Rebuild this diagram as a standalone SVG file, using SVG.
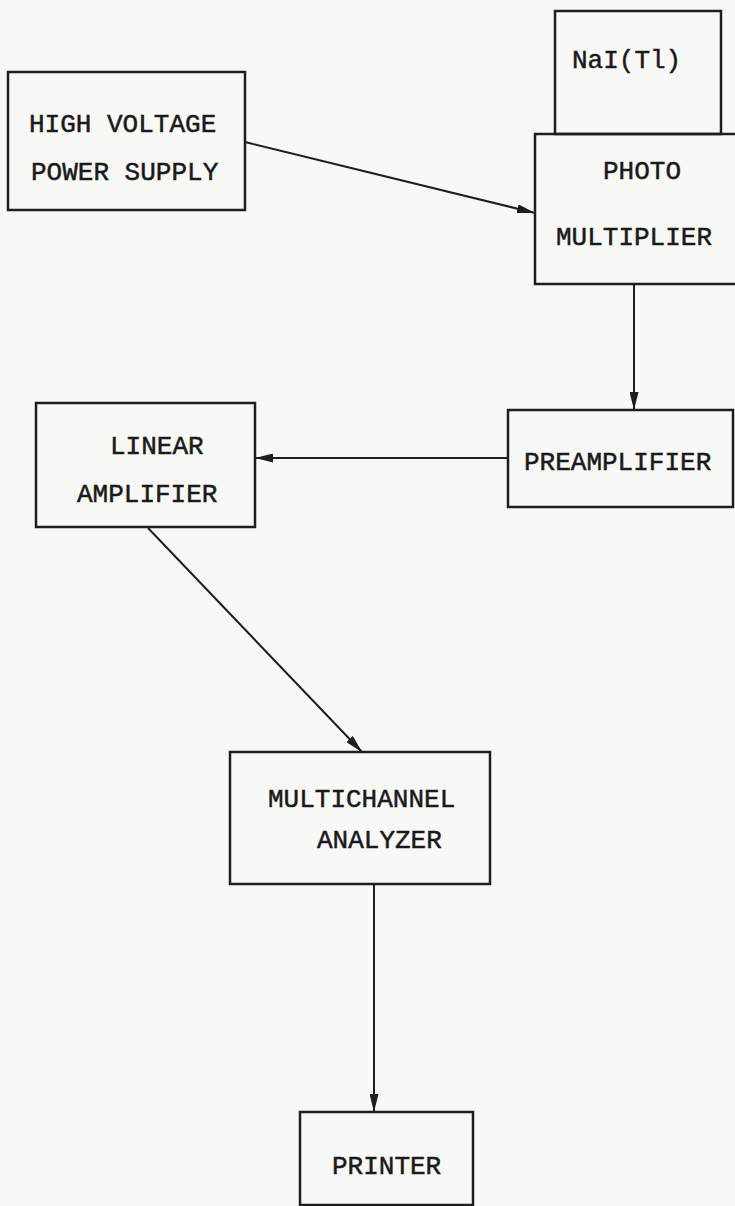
<svg xmlns="http://www.w3.org/2000/svg" width="735" height="1206" viewBox="0 0 735 1206">
<style>
.box{fill:none;stroke:#1e1e1e;stroke-width:2.5}
.lbl{font-family:"Liberation Mono","DejaVu Sans Mono",monospace;font-size:26px;fill:#1a1a1a;stroke:#1a1a1a;stroke-width:0.5}
.conn{stroke:#1e1e1e;stroke-width:2;fill:none;marker-end:url(#ah)}
</style>
<defs>
<marker id="ah" viewBox="0 0 18 9" refX="18" refY="4.5" markerWidth="18" markerHeight="9" markerUnits="userSpaceOnUse" orient="auto">
<path d="M0,0 L18,4.5 L0,9 Z" fill="#1e1e1e"/>
</marker>
</defs>
<rect width="735" height="1206" fill="#f8f8f6"/>
<g id="hv">
<rect class="box" x="8" y="72" width="237" height="138"/>
<text class="lbl" x="29" y="132">HIGH VOLTAGE</text>
<text class="lbl" x="31" y="180">POWER SUPPLY</text>
</g>
<g id="nai">
<rect class="box" x="555" y="11" width="166" height="123"/>
<text class="lbl" x="572" y="68">NaI(Tl)</text>
</g>
<g id="pm">
<rect class="box" x="535" y="134" width="205" height="150"/>
<text class="lbl" x="603" y="179">PHOTO</text>
<text class="lbl" x="556" y="245">MULTIPLIER</text>
</g>
<g id="preamp">
<rect class="box" x="508" y="410" width="225" height="97"/>
<text class="lbl" x="524" y="470">PREAMPLIFIER</text>
</g>
<g id="linamp">
<rect class="box" x="36" y="403" width="219" height="124"/>
<text class="lbl" x="110" y="454">LINEAR</text>
<text class="lbl" x="77" y="502">AMPLIFIER</text>
</g>
<g id="mca">
<rect class="box" x="230" y="752" width="260" height="132"/>
<text class="lbl" x="268" y="807">MULTICHANNEL</text>
<text class="lbl" x="317" y="848">ANALYZER</text>
</g>
<g id="printer">
<rect class="box" x="300" y="1112" width="173" height="93"/>
<text class="lbl" x="332" y="1174">PRINTER</text>
</g>
<g id="connectors">
<line class="conn" x1="245" y1="142" x2="535" y2="213"/>
<line class="conn" x1="634" y1="284" x2="634" y2="410"/>
<line class="conn" x1="508" y1="458" x2="255" y2="458"/>
<line class="conn" x1="148" y1="528" x2="362" y2="752"/>
<line class="conn" x1="374" y1="884" x2="374" y2="1112"/>
</g>
</svg>
